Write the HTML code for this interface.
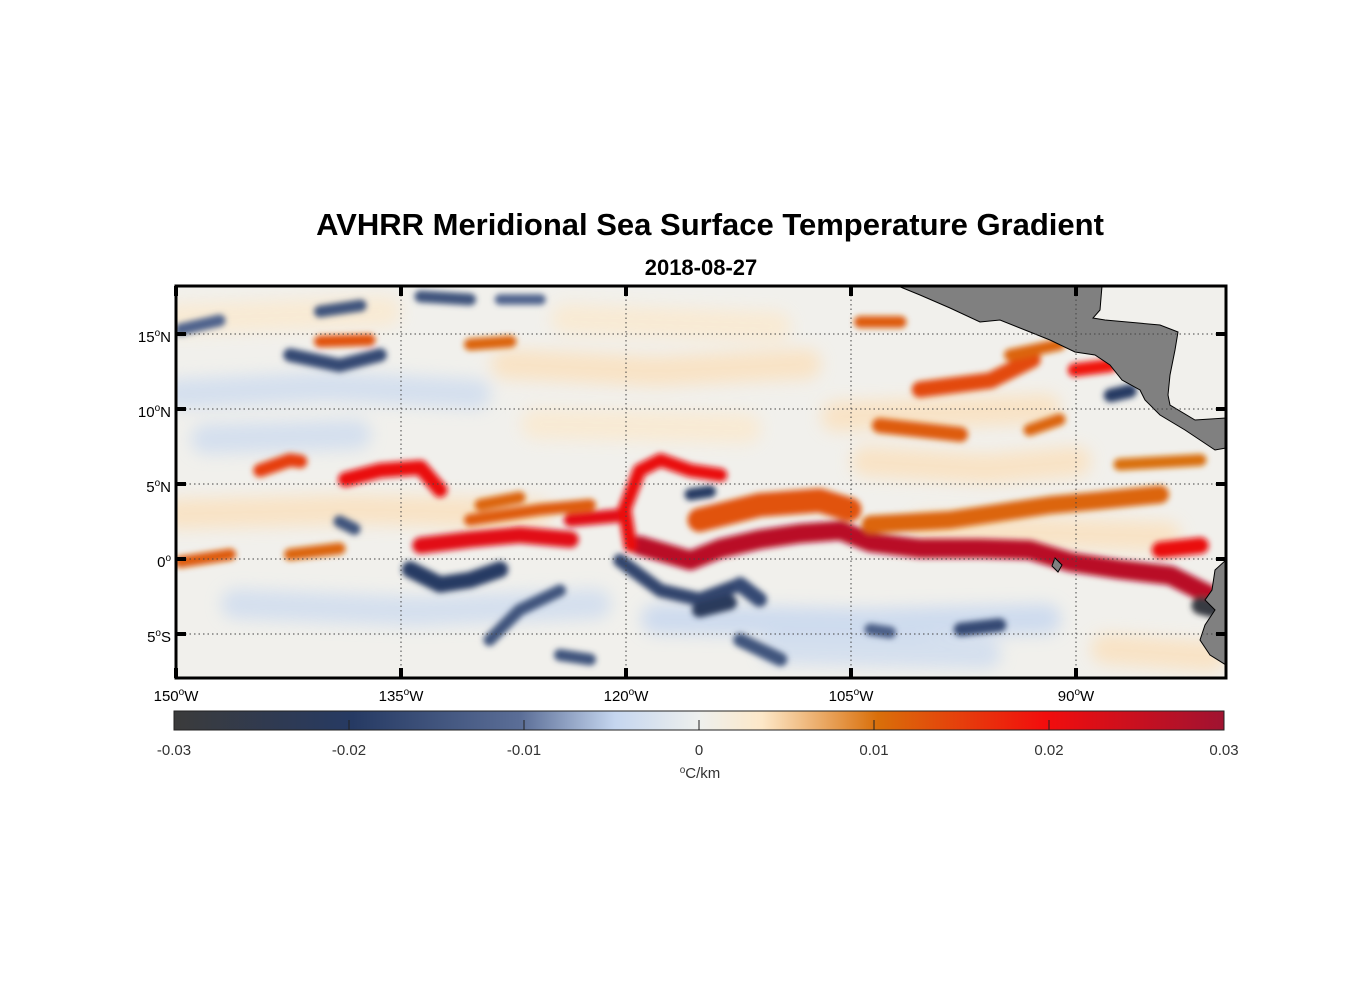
<!DOCTYPE html>
<html><head><meta charset="utf-8"><style>
html,body{margin:0;padding:0;background:#fff;width:1356px;height:1000px;overflow:hidden}
svg{font-family:"Liberation Sans",Arial,sans-serif}
</style></head><body>
<svg id="chart" width="1356" height="1000" viewBox="0 0 1356 1000">
<defs>
<filter id="blur" x="-20%" y="-20%" width="140%" height="140%"><feGaussianBlur stdDeviation="3"/></filter>
<filter id="blur2" x="-20%" y="-20%" width="140%" height="140%"><feGaussianBlur stdDeviation="8"/></filter>
<clipPath id="mapclip"><rect x="176" y="286" width="1050" height="392"/></clipPath>
<linearGradient id="cbar" x1="0" x2="1" y1="0" y2="0">
<stop offset="0" stop-color="#3b3b3b"/><stop offset="0.17" stop-color="#263a63"/>
<stop offset="0.33" stop-color="#5b6e97"/><stop offset="0.42" stop-color="#c5d6ef"/>
<stop offset="0.5" stop-color="#eef0ee"/><stop offset="0.56" stop-color="#fde8c8"/>
<stop offset="0.67" stop-color="#d96f0a"/><stop offset="0.83" stop-color="#f20d0d"/>
<stop offset="1" stop-color="#a01331"/></linearGradient>
</defs>
<text x="710" y="235" text-anchor="middle" font-size="31" font-weight="bold">AVHRR Meridional Sea Surface Temperature Gradient</text>
<text x="701" y="275" text-anchor="middle" font-size="22" font-weight="bold">2018-08-27</text>
<g id="map" clip-path="url(#mapclip)">
<rect x="176" y="286" width="1050" height="392" fill="#f1f0ec"/>
<g id="faint" filter="url(#blur2)" opacity="0.8"></g>
<g id="features" filter="url(#blur)"></g>
<polygon fill="#808080" stroke="#000" stroke-width="1" points="898,286 1102,286 1100,310 1093,318 1105,320 1160,325 1178,332 1175,350 1170,375 1168,395 1170,405 1195,420 1226,418 1226,448 1215,450 1200,440 1185,430 1160,415 1145,400 1140,390 1122,380 1110,365 1095,355 1075,352 1050,340 1025,330 1000,320 980,322 950,308 920,295"/>
<polygon fill="#808080" stroke="#000" stroke-width="1" points="1226,560 1215,570 1212,590 1205,600 1215,610 1205,625 1200,640 1210,655 1226,665"/>
<polygon fill="#808080" stroke="#000" stroke-width="1" points="1055,558 1062,565 1058,572 1052,566"/>
<g id="grid"></g>
</g>
<rect x="176" y="286" width="1050" height="392" fill="none" stroke="#000" stroke-width="3"/>
<g id="ticks"></g>
<g id="labels" font-size="15"></g>
<rect x="174" y="711" width="1050" height="19" fill="url(#cbar)" stroke="#222" stroke-width="1"/>
<g id="cbticks" font-size="15"></g>
<text x="700" y="778" text-anchor="middle" font-size="15" fill="#333"><tspan font-size="10" dy="-5">o</tspan><tspan dy="5">C/km</tspan></text>
</svg>
<script>
const lonTicks=[-150,-135,-120,-105,-90];
const latTicks=[15,10,5,0,-5];
const cbTicks=[-0.03,-0.02,-0.01,0,0.01,0.02,0.03];
const featLons=[
[-119.1,-115.7,-113.7,-111.1,-108.4,-105.7,-103.7,-100.4,-96.4,-93.1,-90.4,-87.1,-83.7,-81.1],
[-115.1,-111.1,-107.1,-105.1],
[-103.7,-98.4,-91.7,-88.4,-84.4],
[-133.7,-130.4,-127.1,-123.7],
[-123.7,-120.4],
[-138.7,-136.4,-133.7,-132.4],
[-144.4,-142.4,-141.7],
[-149.7,-146.4],
[-142.4,-139.1],
[-119.7,-120.1,-119.1,-117.7,-115.7,-113.7],
[-130.4,-125.7,-122.4],
[-129.7,-127.1],
[-140.4,-137.1],
[-130.4,-127.7],
[-104.4,-101.7],
[-100.4,-95.7,-92.9],
[-103.1,-97.7],
[-94.4,-91.1],
[-90.1,-87.7],
[-93.1,-91.1],
[-87.1,-81.7],
[-84.4,-81.7],
[-134.4,-132.4,-130.4,-128.4],
[-129.1,-127.1,-124.4],
[-120.4,-117.7,-115.1,-112.4],
[-112.4,-111.1],
[-115.1,-113.1],
[-124.4,-122.4],
[-112.4,-109.7],
[-115.7,-114.4],
[-139.1,-138.1],
[-149.7,-147.1],
[-142.4,-139.1,-136.4],
[-140.4,-137.7],
[-133.7,-130.4],
[-128.4,-125.7],
[-97.7,-95.1],
[-87.7,-86.4],
[-81.7,-80.9],
[-103.7,-102.4]
];
const featLats=[
[0.9,-0.1,0.7,1.3,1.7,1.9,1.1,0.7,0.7,0.6,-0.2,-0.7,-1.1,-2.4],
[2.6,3.6,3.9,3.3],
[2.3,2.6,3.6,3.9,4.3],
[0.9,1.3,1.6,1.3],
[2.6,2.9],
[5.3,5.9,6.1,4.6],
[5.9,6.6,6.5],
[-0.2,0.3],
[0.3,0.7],
[0.9,3.3,5.9,6.6,5.9,5.6],
[2.6,3.3,3.6],
[3.6,4.1],
[14.5,14.6],
[14.3,14.5],
[15.8,15.8],
[11.3,11.9,13.3],
[8.9,8.3],
[13.6,14.3],
[12.6,12.9],
[8.6,9.3],
[6.3,6.6],
[0.6,0.9],
[-0.7,-1.7,-1.4,-0.7],
[-5.4,-3.4,-2.1],
[-0.1,-2.1,-2.7,-1.7],
[-1.7,-2.7],
[-3.4,-2.9],
[-6.4,-6.7],
[-5.4,-6.7],
[4.3,4.5],
[2.5,2.0],
[15.3,15.9],
[13.6,12.9,13.6],
[16.5,16.9],
[17.5,17.3],
[17.3,17.3],
[-4.7,-4.4],
[10.9,11.2],
[-3.1,-3.3],
[-4.7,-4.9]
];
const featValues=[0.027,0.013,0.011,0.022,0.022,0.021,0.015,0.012,0.011,0.021,0.012,0.011,0.013,0.011,0.012,0.014,0.012,0.011,0.019,0.011,0.01,0.021,
-0.02,-0.015,-0.018,-0.017,-0.022,-0.015,-0.015,-0.02,-0.015,-0.012,-0.017,-0.015,-0.015,-0.012,-0.017,-0.02,-0.028,-0.013];
const featWidths=[1.3,1.6,1.2,1.1,0.9,1.0,0.9,0.8,0.8,0.9,0.8,0.8,0.8,0.8,0.8,1.1,1.0,0.8,0.9,0.8,0.8,1.1,
1.1,0.8,0.9,1.0,1.0,0.8,0.9,0.8,0.8,0.8,0.9,0.8,0.8,0.7,0.9,0.9,1.2,0.8];
// faint background mottling (low-magnitude gradients)
const faintLons=[[-150,-140,-130],[-128,-118,-108],[-104,-96,-90],[-148,-138],[-126,-112],[-106,-92],[-150,-138,-126],[-118,-104,-92],[-88,-81],[-146,-134,-122],[-110,-96],[-150,-136],[-124,-110],[-100,-84]];
const faintLats=[[11,11.5,11],[13,12.5,13],[6.5,6,6.5],[8,8.3],[9,8.7],[9.5,10],[3,3.3,3],[-4,-4.3,-4],[-6,-6.5],[-3,-3.5,-3],[-6,-6.3],[16,16.5],[16,15.5],[2,1.5]];
const faintValues=[-0.004,0.004,0.004,-0.004,0.003,0.004,0.004,-0.005,0.004,-0.004,-0.004,0.003,0.003,0.004];

const X=lon=>176+(lon+150)*15;
const Y=lat=>559-lat*15;
const cbX=v=>174+(v+0.03)/0.06*1050;
const NS="http://www.w3.org/2000/svg";
const cstops=[[-0.03,[59,59,59]],[-0.02,[38,58,99]],[-0.01,[91,110,151]],[-0.005,[197,214,239]],[0,[238,240,238]],[0.0036,[253,232,200]],[0.01,[217,111,10]],[0.02,[242,13,13]],[0.03,[160,19,49]]];
function cmap(v){
  v=Math.max(-0.03,Math.min(0.03,v));
  for(let i=0;i<cstops.length-1;i++){const a=cstops[i],b=cstops[i+1];
    if(v<=b[0]){const t=(v-a[0])/(b[0]-a[0]);const c=a[1].map((x,k)=>Math.round(x+(b[1][k]-x)*t));return `rgb(${c})`;}}
  return "rgb(160,19,49)";
}
function drawSet(gid,lonsArr,latsArr,vals,wfn){
  const g=document.getElementById(gid);
  lonsArr.forEach((lons,i)=>{
    const pts=lons.map((lo,j)=>X(lo)+","+Y(latsArr[i][j])).join(" ");
    const pl=document.createElementNS(NS,'polyline');
    pl.setAttribute('points',pts);
    pl.setAttribute('fill','none');
    pl.setAttribute('stroke',cmap(vals[i]));
    pl.setAttribute('stroke-width',wfn(i));
    pl.setAttribute('stroke-linecap','round');
    pl.setAttribute('stroke-linejoin','round');
    
    
    g.appendChild(pl);
  });
}
drawSet('faint',faintLons,faintLats,faintValues,()=>30);
drawSet('features',featLons,featLats,featValues,i=>featWidths[i]*15);
const grid=document.getElementById('grid'),ticks=document.getElementById('ticks'),labels=document.getElementById('labels');
function line(parent,x1,y1,x2,y2,attrs){const l=document.createElementNS(NS,'line');l.setAttribute('x1',x1);l.setAttribute('y1',y1);l.setAttribute('x2',x2);l.setAttribute('y2',y2);for(const k in attrs)l.setAttribute(k,attrs[k]);parent.appendChild(l);return l;}
function degText(x,y,num,suf,anchor){
  const t=document.createElementNS(NS,'text');t.setAttribute('x',x);t.setAttribute('y',y);t.setAttribute('text-anchor',anchor);
  t.innerHTML=`${num}<tspan font-size="10" dy="-6">o</tspan><tspan dy="6">${suf}</tspan>`;
  labels.appendChild(t);return t;
}
lonTicks.forEach(lo=>{
  const x=X(lo);
  const g=line(grid,x,286,x,678,{stroke:'#444','stroke-width':1,'stroke-dasharray':'1.5 3'});
  
  
  const t1=line(ticks,x,286,x,296,{stroke:'#000','stroke-width':4});
  
  
  const t2=line(ticks,x,668,x,678,{stroke:'#000','stroke-width':4});
  
  
  const lab=degText(x,701,Math.abs(lo),'W','middle');
  
  
});
latTicks.forEach(la=>{
  const y=Y(la);
  const g=line(grid,176,y,1226,y,{stroke:'#444','stroke-width':1,'stroke-dasharray':'1.5 3'});
  
  
  const t1=line(ticks,176,y,186,y,{stroke:'#000','stroke-width':4});
  
  
  const t2=line(ticks,1216,y,1226,y,{stroke:'#000','stroke-width':4});
  
  
  const lab=degText(171,y+8,Math.abs(la),la>0?'N':(la<0?'S':''),'end');
  
  
});
const cbg=document.getElementById('cbticks');
cbTicks.forEach(v=>{
  const x=cbX(v);
  const tk=line(cbg,x,720,x,730,{stroke:'#222','stroke-width':1});
  
  
  const t=document.createElementNS(NS,'text');
  t.setAttribute('x',x);t.setAttribute('y',755);t.setAttribute('text-anchor','middle');t.setAttribute('fill','#333');
  t.textContent=String(v);
  
  
  cbg.appendChild(t);
});
</script>
</body></html>
